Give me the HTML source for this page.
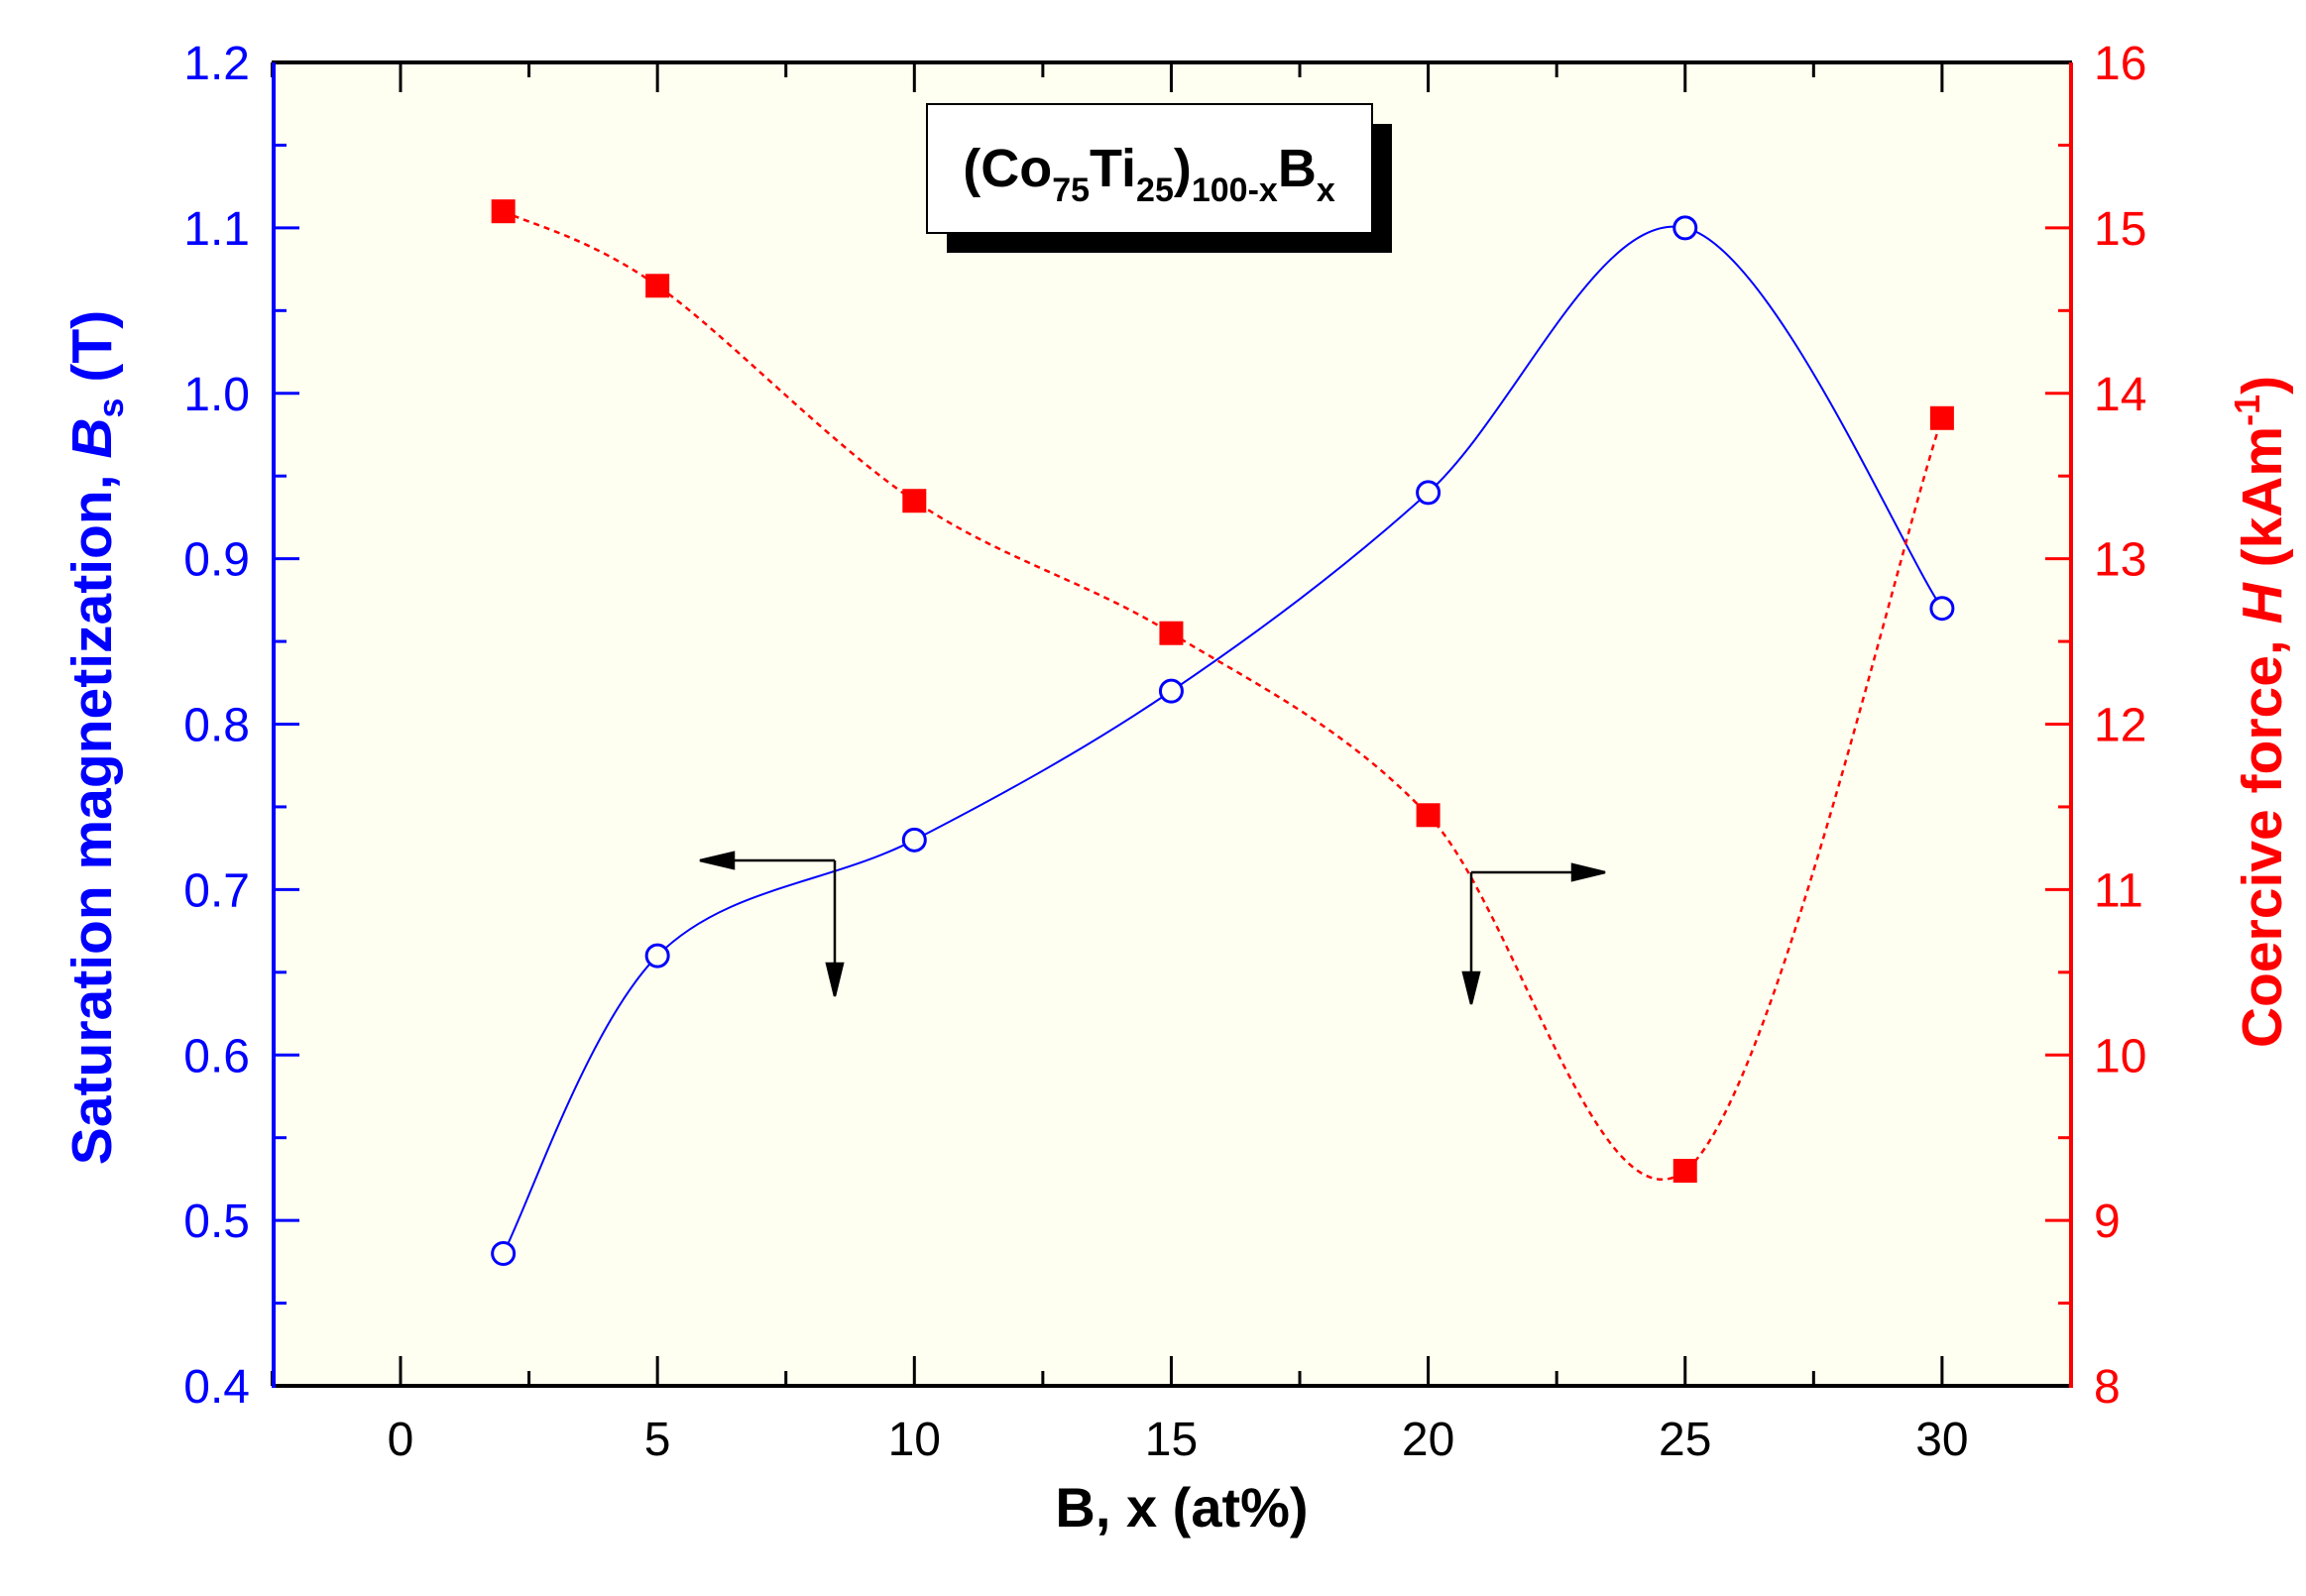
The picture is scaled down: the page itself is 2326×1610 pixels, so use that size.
<!DOCTYPE html>
<html><head><meta charset="utf-8"><style>
html,body{margin:0;padding:0;background:#fff;}
svg{display:block;font-family:"Liberation Sans",Arial,sans-serif;}
</style></head><body>
<svg id="s" width="2326" height="1610" xmlns="http://www.w3.org/2000/svg">
<rect x="276" y="63" width="1813" height="1335" fill="#fefff0"/>
<g id="ticks"></g>
<path id="bl" fill="none" stroke="#0000ff" stroke-width="2"/>
<path id="rl" fill="none" stroke="#ff0000" stroke-width="2.5" stroke-dasharray="6,5"/>
<g id="mk"></g>
<line x1="274" y1="63" x2="2090" y2="63" stroke="#000" stroke-width="4"/>
<line x1="274" y1="1398" x2="2090" y2="1398" stroke="#000" stroke-width="4"/>
<line x1="276" y1="63" x2="276" y2="1400" stroke="#0000ff" stroke-width="4"/>
<line x1="2089" y1="63" x2="2089" y2="1400" stroke="#ff0000" stroke-width="4"/>
<rect x="955" y="125" width="449" height="130" fill="#000"/>
<rect x="935" y="105" width="449" height="130" fill="#fff" stroke="#000" stroke-width="2"/>
<text x="1159" y="188" text-anchor="middle" font-size="54" font-weight="bold">(Co<tspan font-size="34" dy="15">75</tspan><tspan dy="-15">Ti</tspan><tspan font-size="34" dy="15">25</tspan><tspan dy="-15">)</tspan><tspan font-size="34" dy="15">100-x</tspan><tspan dy="-15">B</tspan><tspan font-size="34" dy="15">x</tspan></text>
<g stroke="#000" stroke-width="2.5" fill="#000">
<line x1="842" y1="868" x2="735" y2="868"/><polygon points="706,868 740,860 740,876"/>
<line x1="842" y1="868" x2="842" y2="975"/><polygon points="842,1005 834,972 850,972"/>
<line x1="1484" y1="880" x2="1590" y2="880"/><polygon points="1619,880 1586,872 1586,888"/>
<line x1="1484" y1="880" x2="1484" y2="985"/><polygon points="1484,1013 1476,981 1492,981"/>
</g>
<text transform="translate(112,744) rotate(-90)" text-anchor="middle" font-size="57" font-weight="bold" fill="#0000ff">Saturation magnetization, <tspan font-style="italic">B</tspan><tspan font-size="36" dy="12">s</tspan><tspan dy="-12"> (T)</tspan></text>
<text transform="translate(2301,718) rotate(-90)" text-anchor="middle" font-size="57" font-weight="bold" fill="#ff0000">Coercive force, <tspan font-style="italic">H</tspan> (kAm<tspan font-size="36" dy="-22">-1</tspan><tspan dy="22">)</tspan></text>
<text x="1192" y="1540" text-anchor="middle" font-size="56" font-weight="bold">B, x (at%)</text>
</svg>
<script>
const NS="http://www.w3.org/2000/svg";
const X=x=>404+x*51.83, YL=v=>1398-(v-0.4)*1668.75, YR=v=>1398-(v-8)*166.875;
const t=document.getElementById('ticks');
function el(n,a,txt,p){const e=document.createElementNS(NS,n);for(const k in a)e.setAttribute(k,a[k]);if(txt!==undefined&&txt!==null)e.textContent=txt;(p||t).appendChild(e);return e;}
for(let i=0;i<=14;i++){const x=X(-2.5+i*2.5);const maj=(i%2==1);const L=maj?30:15;
 el('line',{x1:x,y1:1398,x2:x,y2:1398-L,stroke:'#000','stroke-width':3});
 el('line',{x1:x,y1:63,x2:x,y2:63+L,stroke:'#000','stroke-width':3});
 if(maj) el('text',{x:x,y:1468,'text-anchor':'middle','font-size':48,fill:'#000'},String(-2.5+i*2.5));}
for(let i=0;i<=16;i++){const v=0.4+i*0.05;const y=YL(v);const maj=i%2==0;
 el('line',{x1:276,y1:y,x2:276+(maj?26:13),y2:y,stroke:'#0000ff','stroke-width':3});
 if(maj) el('text',{x:252,y:y+17,'text-anchor':'end','font-size':48,fill:'#0000ff'},v.toFixed(1));}
for(let i=0;i<=16;i++){const v=8+i*0.5;const y=YR(v);const maj=i%2==0;
 el('line',{x1:2089,y1:y,x2:2089-(maj?26:13),y2:y,stroke:'#ff0000','stroke-width':3});
 if(maj) el('text',{x:2112,y:y+17,'font-size':48,fill:'#ff0000'},String(v));}
const xs=[2,5,10,15,20,25,30];
const B=[0.48,0.66,0.73,0.82,0.94,1.10,0.87], H=[15.1,14.65,13.35,12.55,11.45,9.3,13.85];
function spline(P){let d='M'+P[0][0]+','+P[0][1];
 for(let i=0;i<P.length-1;i++){const p0=P[i-1]||P[i],p1=P[i],p2=P[i+1],p3=P[i+2]||P[i+1];
  const c1=[p1[0]+(p2[0]-p0[0])/6,p1[1]+(p2[1]-p0[1])/6],c2=[p2[0]-(p3[0]-p1[0])/6,p2[1]-(p3[1]-p1[1])/6];
  d+=' C'+c1.join(',')+' '+c2.join(',')+' '+p2.join(',');}return d;}
document.getElementById('bl').setAttribute('d',spline(xs.map((x,i)=>[X(x),YL(B[i])])));
document.getElementById('rl').setAttribute('d',spline(xs.map((x,i)=>[X(x),YR(H[i])])));
const mk=document.getElementById('mk');
xs.forEach((x,i)=>{el('circle',{cx:X(x),cy:YL(B[i]),r:11,fill:'#fefff0',stroke:'#0000ff','stroke-width':3},null,mk);
 el('rect',{x:X(x)-12,y:YR(H[i])-12,width:24,height:24,fill:'#ff0000'},null,mk);});
</script>
</body></html>
